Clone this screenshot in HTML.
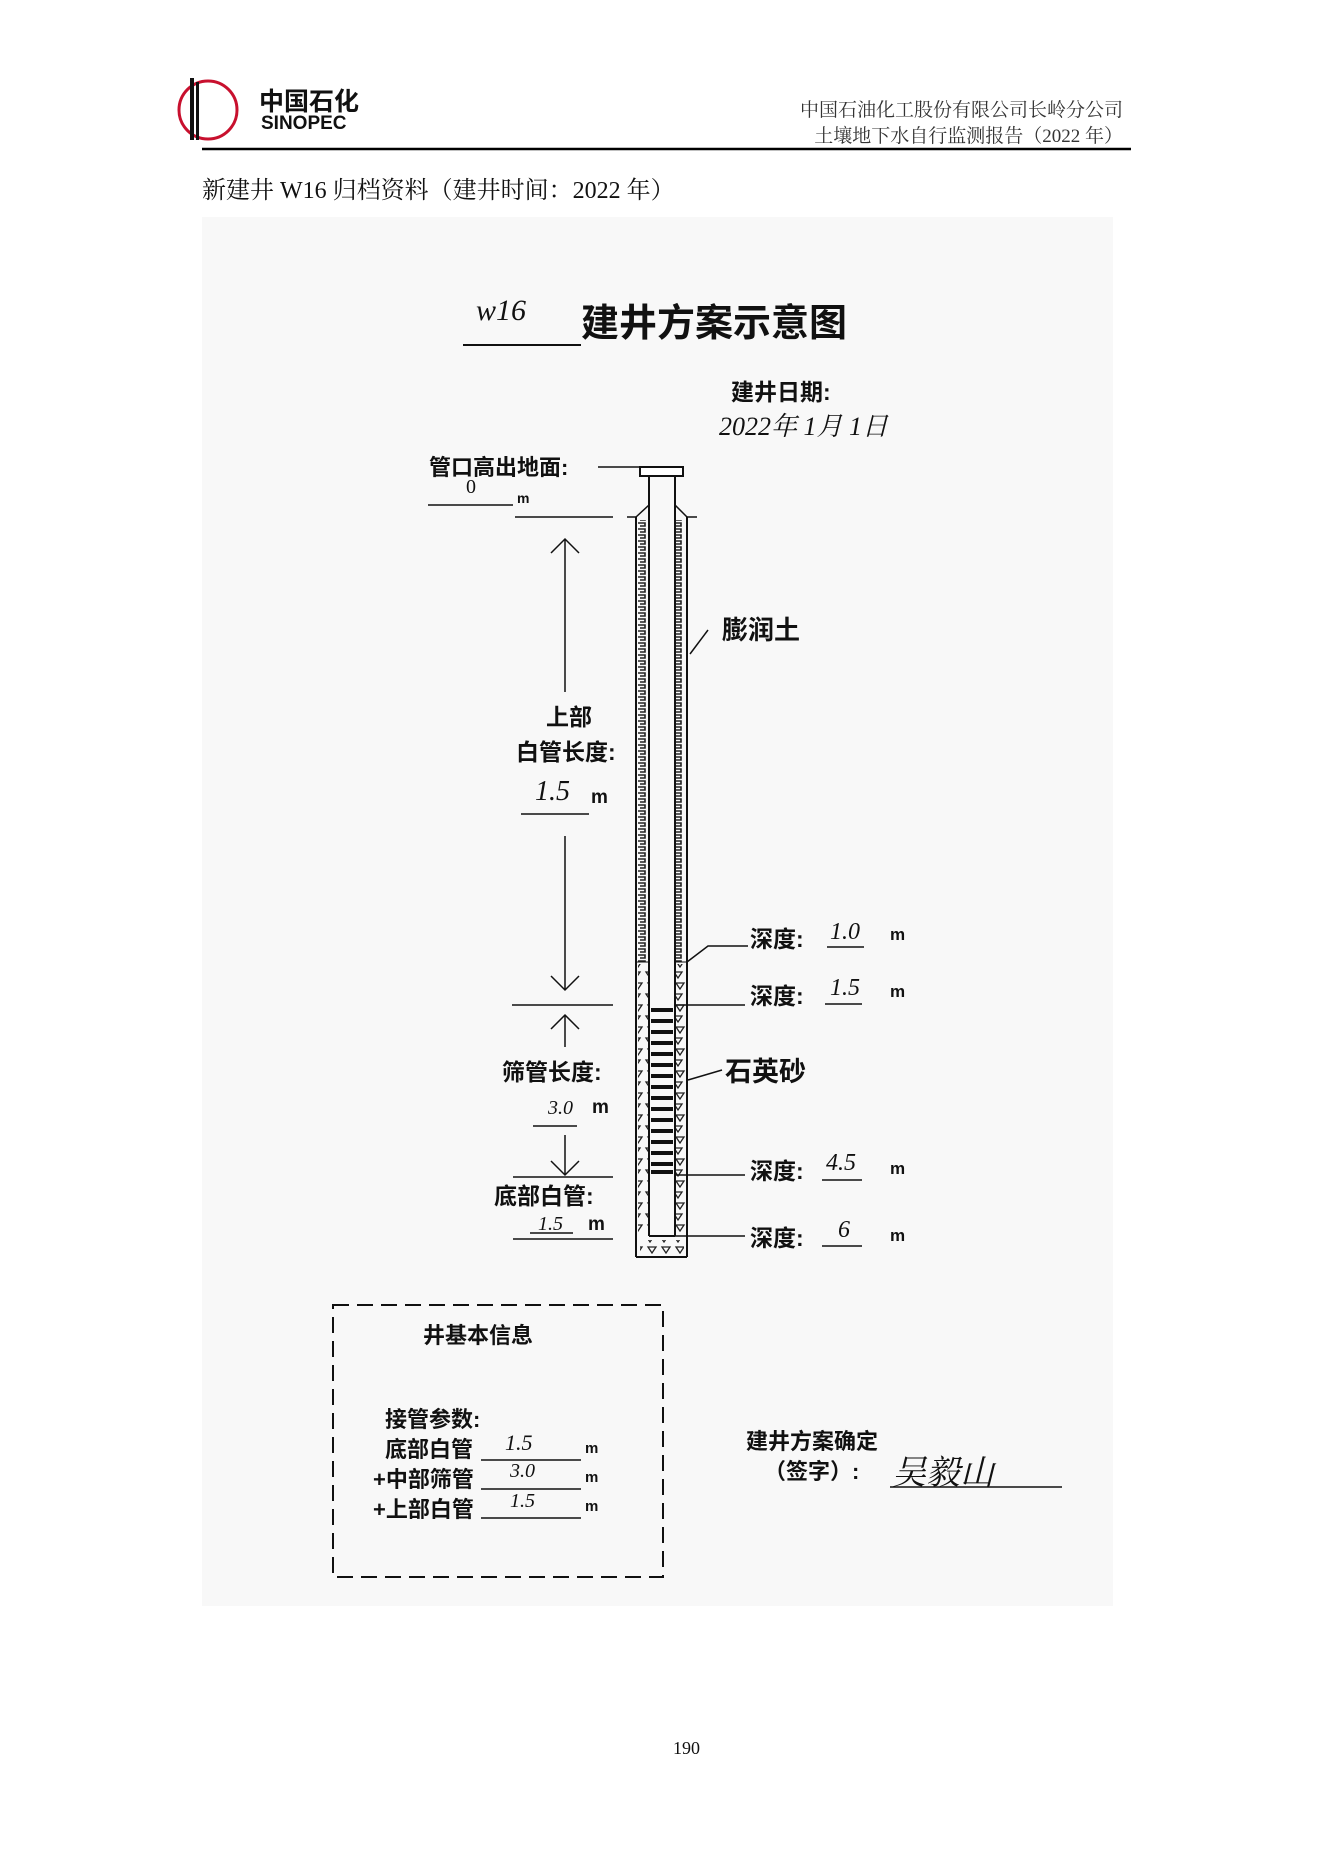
<!DOCTYPE html>
<html><head><meta charset="utf-8"><style>
body{margin:0;width:1323px;height:1871px;background:#fff;position:relative;overflow:hidden;font-family:"Liberation Serif","Noto Serif CJK SC",serif;}
.t{position:absolute;white-space:nowrap;color:#111;}
.b{font-family:"Liberation Sans","Noto Sans CJK SC",sans-serif;font-weight:bold;}
</style></head><body>
<svg width="1323" height="1871" style="position:absolute;left:0;top:0">
<circle cx="208" cy="110" r="29" fill="none" stroke="#c8102e" stroke-width="3"/>
<rect x="190" y="78" width="4" height="62" fill="#111"/><rect x="196" y="82" width="3" height="58" fill="#111"/>
<line x1="202" y1="149" x2="1131" y2="149" stroke="#000" stroke-width="2.5"/>
<rect x="202" y="217" width="911" height="1389" fill="#f8f8f8"/>
<line x1="463" y1="345" x2="581" y2="345" stroke="#111" stroke-width="2"/>
<rect x="640" y="467" width="43" height="9" fill="#fff" stroke="#111" stroke-width="2"/>
<line x1="598" y1="467" x2="640" y2="467" stroke="#111" stroke-width="1.5"/>
<line x1="649" y1="476" x2="649" y2="1236" stroke="#111" stroke-width="2"/>
<line x1="675" y1="476" x2="675" y2="1236" stroke="#111" stroke-width="2"/>
<line x1="649" y1="1236" x2="675" y2="1236" stroke="#111" stroke-width="2"/>
<path d="M636 517 L649 505 M687 517 L675 505" stroke="#111" stroke-width="1.5"/>
<line x1="636" y1="517" x2="636" y2="1257" stroke="#111" stroke-width="2"/>
<line x1="687" y1="517" x2="687" y2="1257" stroke="#111" stroke-width="2"/>
<line x1="636" y1="1257" x2="687" y2="1257" stroke="#111" stroke-width="2"/>
<line x1="627" y1="517" x2="636" y2="517" stroke="#111" stroke-width="1.5"/>
<line x1="687" y1="517" x2="697" y2="517" stroke="#111" stroke-width="1.5"/>
<defs>
<pattern id="bent" width="12" height="6" patternUnits="userSpaceOnUse"><path d="M2 1 h7 v3 h-5" fill="none" stroke="#222" stroke-width="1.6"/></pattern>
<pattern id="sand" width="14" height="22" patternUnits="userSpaceOnUse"><path d="M2 4 l8 0 l-4 6z M4 15 l8 0 l-4 6z" fill="none" stroke="#222" stroke-width="1.3"/></pattern>
</defs>
<rect x="638" y="520" width="10" height="442" fill="url(#bent)"/>
<rect x="676" y="520" width="10" height="442" fill="url(#bent)"/>
<rect x="638" y="964" width="10" height="270" fill="url(#sand)"/>
<rect x="676" y="964" width="10" height="270" fill="url(#sand)"/>
<rect x="640" y="1240" width="44" height="14" fill="url(#sand)"/>
<line x1="636" y1="962" x2="649" y2="962" stroke="#111"/><line x1="675" y1="962" x2="687" y2="962" stroke="#111"/>
<g stroke="#111" stroke-width="4">
<line x1="651" y1="1010" x2="673" y2="1010"/><line x1="651" y1="1021" x2="673" y2="1021"/><line x1="651" y1="1032" x2="673" y2="1032"/><line x1="651" y1="1043" x2="673" y2="1043"/><line x1="651" y1="1054" x2="673" y2="1054"/><line x1="651" y1="1065" x2="673" y2="1065"/><line x1="651" y1="1076" x2="673" y2="1076"/><line x1="651" y1="1087" x2="673" y2="1087"/><line x1="651" y1="1098" x2="673" y2="1098"/><line x1="651" y1="1109" x2="673" y2="1109"/><line x1="651" y1="1120" x2="673" y2="1120"/><line x1="651" y1="1131" x2="673" y2="1131"/><line x1="651" y1="1142" x2="673" y2="1142"/><line x1="651" y1="1153" x2="673" y2="1153"/><line x1="651" y1="1164" x2="673" y2="1164"/><line x1="651" y1="1172" x2="673" y2="1172"/>
</g>
<g stroke="#111" stroke-width="1.5" fill="none">
<path d="M687 962 L708 946 L748 946"/>
<line x1="675" y1="1005" x2="745" y2="1005"/>
<line x1="675" y1="1175" x2="745" y2="1175"/>
<line x1="675" y1="1236" x2="745" y2="1236"/>
<path d="M690 654 L708 630"/>
<path d="M688 1080 L722 1070"/>
<line x1="428" y1="505" x2="513" y2="505"/>
<line x1="515" y1="517" x2="613" y2="517"/>
<line x1="565" y1="539" x2="565" y2="692"/><path d="M551 553 L565 539 L579 553"/>
<line x1="521" y1="814" x2="589" y2="814"/>
<line x1="565" y1="836" x2="565" y2="990"/><path d="M551 976 L565 990 L579 976"/>
<line x1="512" y1="1005" x2="613" y2="1005"/>
<line x1="565" y1="1015" x2="565" y2="1047"/><path d="M551 1029 L565 1015 L579 1029"/>
<line x1="533" y1="1126" x2="577" y2="1126"/>
<line x1="565" y1="1135" x2="565" y2="1175"/><path d="M551 1161 L565 1175 L579 1161"/>
<line x1="513" y1="1177" x2="613" y2="1177"/>
<line x1="530" y1="1233" x2="573" y2="1233"/>
<line x1="513" y1="1239" x2="613" y2="1239"/>
<line x1="827" y1="947" x2="864" y2="947"/>
<line x1="825" y1="1004" x2="862" y2="1004"/>
<line x1="822" y1="1180" x2="862" y2="1180"/>
<line x1="822" y1="1246" x2="862" y2="1246"/>
<line x1="481" y1="1460" x2="581" y2="1460"/>
<line x1="481" y1="1489" x2="581" y2="1489"/>
<line x1="481" y1="1518" x2="581" y2="1518"/>
<line x1="890" y1="1487" x2="1062" y2="1487"/>
</g>
<rect x="333" y="1305" width="330" height="272" fill="none" stroke="#111" stroke-width="2" stroke-dasharray="16 8"/>
</svg>
<div class="t b" style="left:259px;top:82px;font-size:25px">中国石化</div>
<div class="t b" style="left:261px;top:113px;font-size:19px">SINOPEC</div>
<div class="t" style="right:200px;top:95px;font-size:19px;color:#333">中国石油化工股份有限公司长岭分公司</div>
<div class="t" style="right:200px;top:121px;font-size:19px;color:#333">土壤地下水自行监测报告（2022 年）</div>
<div class="t" style="left:202px;top:170px;font-size:24px">新建井 W16 归档资料（建井时间：2022 年）</div>
<div class="t" style="left:476px;top:294px;font-size:30px;font-style:italic">w16</div>
<div class="t b" style="left:581px;top:292px;font-size:38px">建井方案示意图</div>
<div class="t b" style="left:731px;top:373px;font-size:23px">建井日期:</div>
<div class="t" style="left:719px;top:406px;font-size:26px;font-style:italic">2022年 1月 1日</div>
<div class="t b" style="left:429px;top:450px;font-size:22px">管口高出地面:</div>
<div class="t" style="left:466px;top:476px;font-size:20px">0</div>
<div class="t b" style="left:517px;top:490px;font-size:14px">m</div>
<div class="t b" style="left:722px;top:610px;font-size:26px">膨润土</div>
<div class="t b" style="left:546px;top:698px;font-size:23px">上部</div>
<div class="t b" style="left:516px;top:733px;font-size:23px">白管长度:</div>
<div class="t" style="left:535px;top:776px;font-size:28px;font-style:italic">1.5</div>
<div class="t b" style="left:591px;top:787px;font-size:19px">m</div>
<div class="t b" style="left:750px;top:920px;font-size:23px">深度: </div>
<div class="t" style="left:830px;top:919px;font-size:24px;font-style:italic">1.0</div>
<div class="t b" style="left:890px;top:925px;font-size:17px">m</div>
<div class="t b" style="left:750px;top:977px;font-size:23px">深度: </div>
<div class="t" style="left:830px;top:975px;font-size:24px;font-style:italic">1.5</div>
<div class="t b" style="left:890px;top:982px;font-size:17px">m</div>
<div class="t b" style="left:725px;top:1050px;font-size:27px">石英砂</div>
<div class="t b" style="left:502px;top:1053px;font-size:23px">筛管长度:</div>
<div class="t" style="left:548px;top:1097px;font-size:20px;font-style:italic">3.0</div>
<div class="t b" style="left:592px;top:1097px;font-size:19px">m</div>
<div class="t b" style="left:750px;top:1152px;font-size:23px">深度: </div>
<div class="t" style="left:826px;top:1150px;font-size:24px;font-style:italic">4.5</div>
<div class="t b" style="left:890px;top:1159px;font-size:17px">m</div>
<div class="t b" style="left:494px;top:1177px;font-size:23px">底部白管:</div>
<div class="t" style="left:538px;top:1213px;font-size:20px;font-style:italic">1.5</div>
<div class="t b" style="left:588px;top:1214px;font-size:19px">m</div>
<div class="t b" style="left:750px;top:1219px;font-size:23px">深度: </div>
<div class="t" style="left:838px;top:1217px;font-size:24px;font-style:italic">6</div>
<div class="t b" style="left:890px;top:1226px;font-size:17px">m</div>
<div class="t b" style="left:423px;top:1318px;font-size:22px">井基本信息</div>
<div class="t b" style="left:385px;top:1402px;font-size:22px">接管参数:</div>
<div class="t b" style="left:385px;top:1432px;font-size:22px">底部白管</div>
<div class="t b" style="left:373px;top:1462px;font-size:22px">+中部筛管</div>
<div class="t b" style="left:373px;top:1492px;font-size:22px">+上部白管</div>
<div class="t" style="left:505px;top:1430px;font-size:22px;font-style:italic">1.5</div>
<div class="t" style="left:510px;top:1460px;font-size:20px;font-style:italic">3.0</div>
<div class="t" style="left:510px;top:1490px;font-size:20px;font-style:italic">1.5</div>
<div class="t b" style="left:585px;top:1440px;font-size:15px">m</div>
<div class="t b" style="left:585px;top:1469px;font-size:15px">m</div>
<div class="t b" style="left:585px;top:1498px;font-size:15px">m</div>
<div class="t b" style="left:746px;top:1424px;font-size:22px">建井方案确定</div>
<div class="t b" style="left:764px;top:1454px;font-size:22px">（签字）:</div>
<div class="t" style="left:892px;top:1445px;font-size:34px;font-style:italic;font-family:'Noto Serif CJK SC',serif">吴毅山</div>
<div class="t" style="left:673px;top:1738px;font-size:18px">190</div>
</body></html>
